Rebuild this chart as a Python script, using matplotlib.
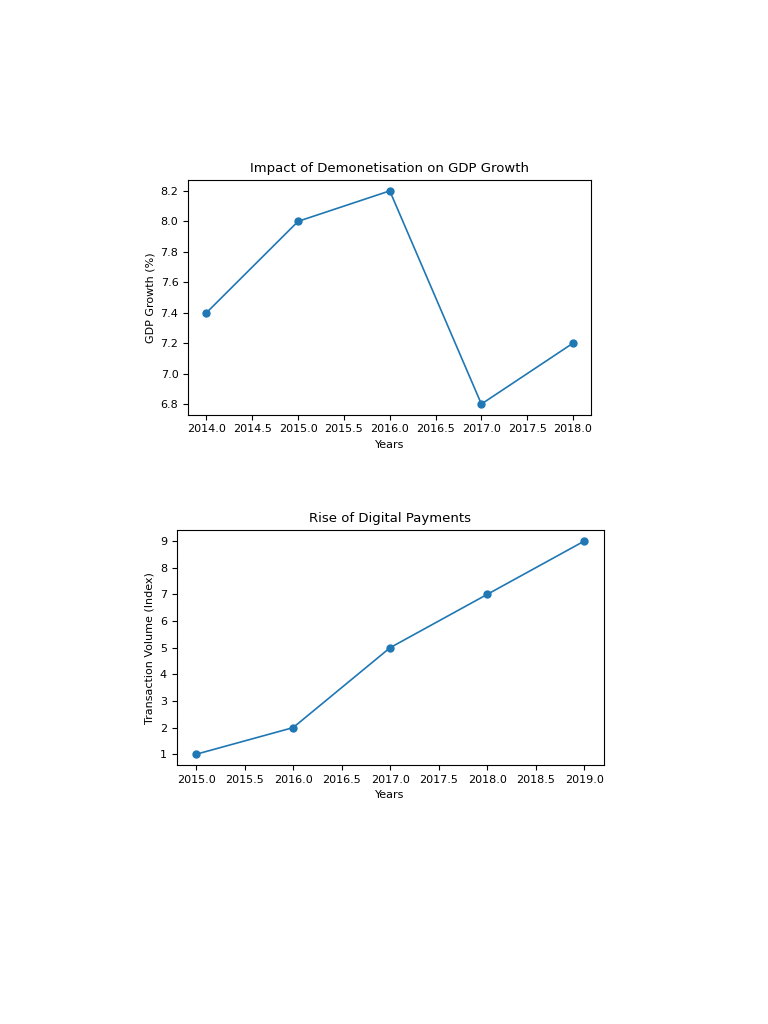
import matplotlib
matplotlib.use("Agg")
import matplotlib.pyplot as plt

gdp_years = [2014, 2015, 2016, 2017, 2018]
gdp_growth = [7.4, 8.0, 8.2, 6.8, 7.2]
pay_years = [2015, 2016, 2017, 2018, 2019]
pay_volume = [1, 2, 5, 7, 9]

fig = plt.figure(figsize=(7.68, 10.24), dpi=100)
ax1 = fig.add_axes([0.245, 0.595, 0.525, 0.229])
ax1.plot(gdp_years, gdp_growth, marker='o', color='#1f77b4', markersize=5, linewidth=1.2)
ax1.set_title("Impact of Demonetisation on GDP Growth", fontsize=9.5)
ax1.set_xlabel("Years", fontsize=8)
ax1.set_ylabel("GDP Growth (%)", fontsize=8)
ax1.tick_params(labelsize=8)

ax2 = fig.add_axes([0.230, 0.253, 0.556, 0.229])
ax2.plot(pay_years, pay_volume, marker='o', color='#1f77b4', markersize=5, linewidth=1.2)
ax2.set_title("Rise of Digital Payments", fontsize=9.5)
ax2.set_xlabel("Years", fontsize=8)
ax2.set_ylabel("Transaction Volume (Index)", fontsize=8)
ax2.tick_params(labelsize=8)

fig.savefig("out.png", dpi=100)
